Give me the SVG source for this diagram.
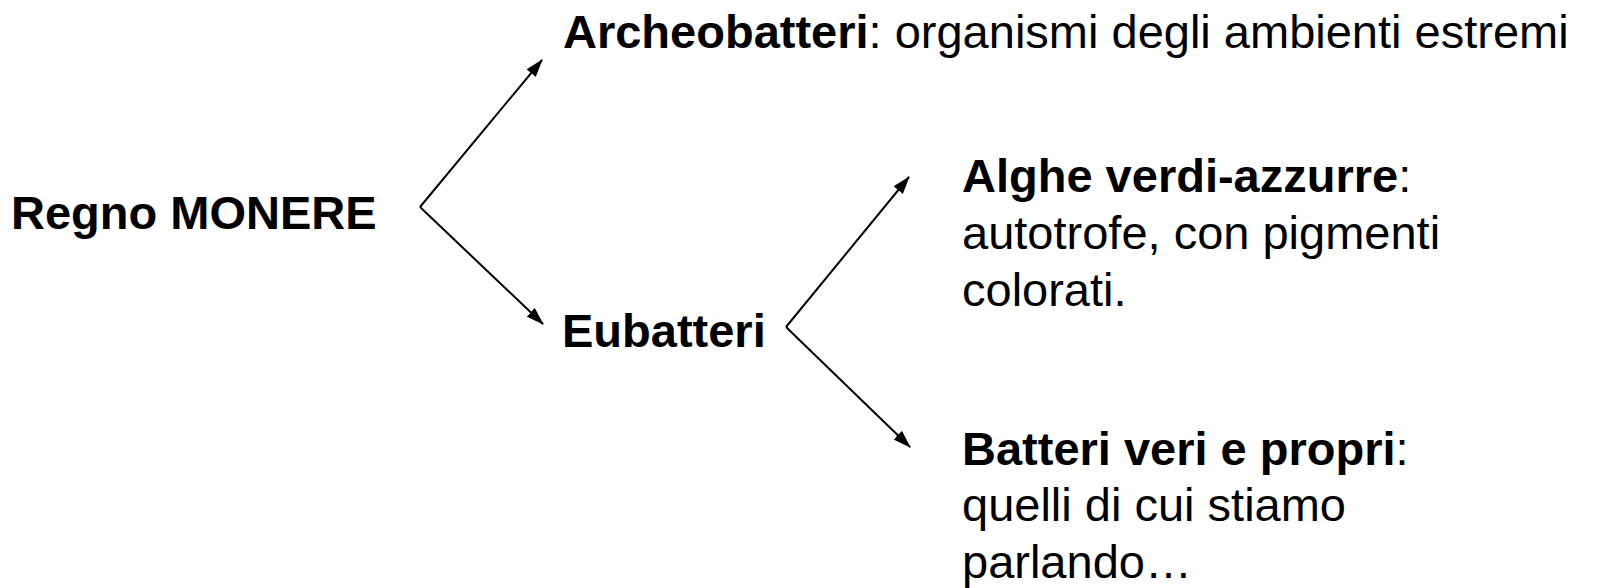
<svg xmlns="http://www.w3.org/2000/svg" width="1600" height="588" viewBox="0 0 1600 588">
  <style>
    text { font-family: "Liberation Sans", Arial, sans-serif; font-size: 47px; fill: #000; }
    .b { font-weight: bold; }
    .edge { fill: none; stroke: #000; stroke-width: 2; marker-end: url(#arrow); }
    .fork { fill: none; stroke: #000; stroke-width: 2; }
  </style>
  <defs>
    <marker id="arrow" markerUnits="userSpaceOnUse" markerWidth="18" markerHeight="12" viewBox="0 0 18 12" refX="17" refY="6" orient="auto">
      <path d="M0,0 L18,6 L0,12 Z" fill="#000"/>
    </marker>
  </defs>

  <rect width="1600" height="588" fill="#fff"/>

  <!-- connectors -->
  <g id="connectors">
    <path class="edge" d="M420,207 L542,60"/>
    <path class="edge" d="M420,207 L543,324"/>
    <path class="edge" d="M786,327 L909,177"/>
    <path class="edge" d="M786,327 L910,447"/>
  </g>

  <g id="node-monere">
    <text class="b" x="11" y="229">Regno MONERE</text>
  </g>

  <g id="node-archeobatteri">
    <text x="563" y="48"><tspan class="b">Archeobatteri</tspan>: organismi degli ambienti estremi</text>
  </g>

  <g id="node-eubatteri">
    <text class="b" x="562" y="347">Eubatteri</text>
  </g>

  <g id="node-alghe">
    <text x="962" y="192"><tspan class="b">Alghe verdi-azzurre</tspan>:</text>
    <text x="962" y="249">autotrofe, con pigmenti</text>
    <text x="962" y="306">colorati.</text>
  </g>

  <g id="node-batteri">
    <text x="962" y="465"><tspan class="b">Batteri veri e propri</tspan>:</text>
    <text x="962" y="521">quelli di cui stiamo</text>
    <text x="962" y="578">parlando…</text>
  </g>
</svg>
